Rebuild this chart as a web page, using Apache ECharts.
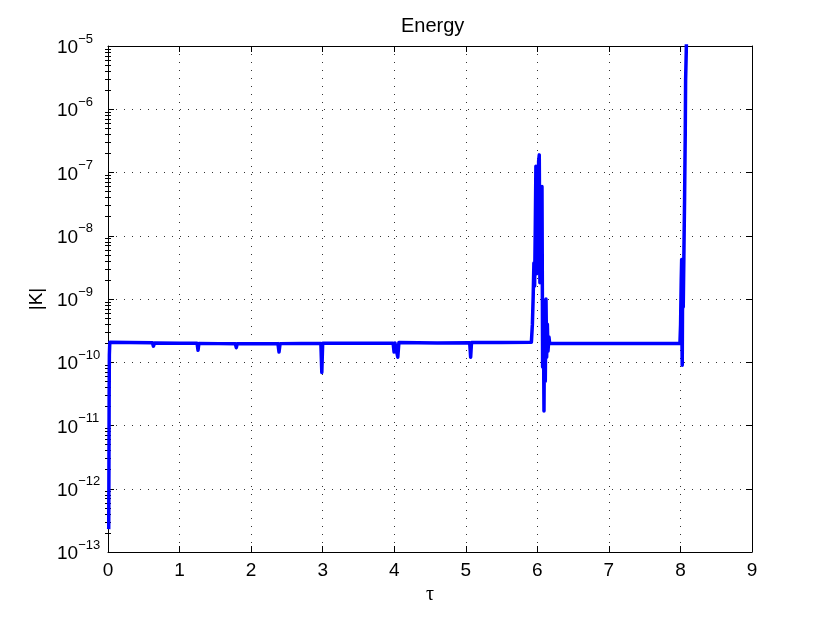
<!DOCTYPE html>
<html>
<head>
<meta charset="utf-8">
<script src="https://cdn.jsdelivr.net/npm/echarts@6/dist/echarts.min.js"></script>
<style>
html,body{margin:0;padding:0;background:#fff;}
#c{width:830px;height:621px;}
</style>
</head>
<body>
<div id="c"></div>
<script>
// ---- data ----
const titleText = 'Energy';
const xName = 'τ';
const yName = '|K|';
const xTicks = [0, 1, 2, 3, 4, 5, 6, 7, 8, 9];
const yDecades = [-13, -12, -11, -10, -9, -8, -7, -6, -5];

const tau = [
  0.010, 0.013, 0.016, 0.019, 0.025, 0.30,
  0.62, 0.635, 0.65, 1.00,
  1.245, 1.258, 1.27, 1.55,
  1.78, 1.793, 1.805, 2.10,
  2.375, 2.39, 2.405, 2.70,
  2.975, 2.988, 3.00, 3.50,
  3.985, 3.998, 4.01, 4.035, 4.05, 4.065, 4.08, 4.60,
  5.055, 5.068, 5.08, 5.50,
  5.917, 5.931, 5.942, 5.952, 5.962, 5.971, 5.980, 5.990, 5.999, 6.008,
  6.018, 6.027, 6.036, 6.046, 6.055, 6.065, 6.074, 6.083, 6.093, 6.102,
  6.111, 6.121, 6.130, 6.140, 6.149, 6.163, 6.172,
  7.00, 7.993, 8.002, 8.011, 8.017, 8.020, 8.025, 8.030, 8.039, 8.049,
  8.058, 8.067, 8.070, 8.072, 8.081, 8.090
];
const K = [
  2.3e-13, 2.0e-12, 3.0e-11, 1.3e-10, 2.07e-10, 2.06e-10,
  2.03e-10, 1.8e-10, 2.02e-10, 2.0e-10,
  1.99e-10, 1.55e-10, 1.98e-10, 1.97e-10,
  1.96e-10, 1.7e-10, 1.96e-10, 1.96e-10,
  1.97e-10, 1.45e-10, 1.97e-10, 1.98e-10,
  1.98e-10, 6.9e-11, 2.0e-10, 2.0e-10,
  2.0e-10, 1.45e-10, 2.02e-10, 2.05e-10, 1.2e-10, 2.05e-10, 2.02e-10, 2.02e-10,
  2.03e-10, 1.2e-10, 2.05e-10, 2.06e-10,
  2.08e-10, 4.0e-10, 1.1e-9, 3.7e-9, 1.6e-9, 1.25e-8, 1.26e-7, 2.5e-9, 1.1e-7, 6.0e-9,
  1.5e-7, 1.9e-7, 1.8e-9, 6.0e-8, 3.0e-9, 6.0e-8, 8.4e-11, 9.6e-10, 1.7e-11, 9.0e-10,
  5.0e-11, 1.0e-9, 1.2e-10, 4.0e-10, 1.5e-10, 2.5e-10, 1.98e-10,
  1.98e-10, 1.98e-10, 4.0e-10, 2.0e-9, 4.2e-9, 3.0e-10, 9.0e-11, 1.5e-9, 7.5e-10, 6.0e-9,
  4.0e-8, 4.0e-7, 4.0e-7, 2.8e-6, 8.0e-6, 3.0e-5
];

// ---- build ----
const yMin = Math.pow(10, yDecades[0]);
const yMax = Math.pow(10, yDecades[yDecades.length - 1]);
const minorTicks = [];
for (let i = 0; i < yDecades.length - 1; i++) {
  for (let k = 2; k <= 9; k++) minorTicks.push(k * Math.pow(10, yDecades[i]));
}
const majorTicks = yDecades.map(d => Math.pow(10, d));
const seriesData = tau.map((t, i) => [t, K[i]]);

const FONT = 'Liberation Sans, Arial, Helvetica, sans-serif';
const gridLine = {show: true, lineStyle: {color: '#333', width: 1, type: [1, 7]}};
const black = '#000';

const chart = echarts.init(document.getElementById('c'), null, {renderer: 'canvas'});
chart.setOption({
  animation: false,
  backgroundColor: '#fff',
  title: {
    text: titleText, left: 396, top: 11,
    textStyle: {fontFamily: FONT, fontSize: 20, fontWeight: 'normal', color: black}
  },
  grid: {left: 108, right: 78, top: 46, bottom: 69, containLabel: false},
  xAxis: [
    {
      type: 'value', min: 0, max: 9, interval: 1, position: 'bottom',
      name: xName, nameLocation: 'middle', nameGap: 30,
      nameTextStyle: {fontFamily: 'Liberation Serif, DejaVu Serif, serif', fontSize: 20, color: black},
      axisLine: {show: true, onZero: false, lineStyle: {color: black, width: 1}},
      axisTick: {show: true, inside: true, length: 6, lineStyle: {color: black}},
      axisLabel: {show: true, margin: 9, fontFamily: FONT, fontSize: 19, color: black},
      splitLine: gridLine
    },
    {
      type: 'value', min: 0, max: 9, interval: 1, position: 'top',
      axisLine: {show: true, onZero: false, lineStyle: {color: black, width: 1}},
      axisTick: {show: true, inside: true, length: 6, lineStyle: {color: black}},
      axisLabel: {show: false},
      splitLine: {show: false}
    }
  ],
  yAxis: [
    {
      type: 'log', logBase: 10, min: yMin, max: yMax, position: 'left',
      name: yName, nameLocation: 'middle', nameGap: 60,
      nameTextStyle: {fontFamily: FONT, fontSize: 19, color: black},
      axisLine: {show: true, onZero: false, lineStyle: {color: black, width: 1}},
      axisTick: {show: true, inside: true, length: 6, lineStyle: {color: black}, customValues: majorTicks},
      axisLabel: {
        show: true, align: 'left', margin: 51, customValues: majorTicks,
        padding: [4, 0, 0, 0],
        formatter: v => '{b|10}{s|\u2212' + Math.abs(Math.round(Math.log10(v))) + '}',
        rich: {
          b: {fontFamily: FONT, fontSize: 19, lineHeight: 31, color: black, verticalAlign: 'middle'},
          s: {fontFamily: FONT, fontSize: 13, lineHeight: 13, color: black, verticalAlign: 'top'}
        }
      },
      splitLine: gridLine
    },
    {
      type: 'log', logBase: 10, min: yMin, max: yMax, position: 'left',
      axisLine: {show: false},
      axisTick: {show: true, inside: true, length: 3, lineStyle: {color: black}, customValues: minorTicks},
      axisLabel: {show: false},
      splitLine: {show: false}
    },
    {
      type: 'log', logBase: 10, min: yMin, max: yMax, position: 'right',
      axisLine: {show: true, onZero: false, lineStyle: {color: black, width: 1}},
      axisTick: {show: true, inside: true, length: 6, lineStyle: {color: black}, customValues: majorTicks},
      axisLabel: {show: false},
      splitLine: {show: false}
    },
    {
      type: 'log', logBase: 10, min: yMin, max: yMax, position: 'right',
      axisLine: {show: false},
      axisTick: {show: true, inside: true, length: 3, lineStyle: {color: black}, customValues: minorTicks},
      axisLabel: {show: false},
      splitLine: {show: false}
    }
  ],
  series: [{
    type: 'line', xAxisIndex: 0, yAxisIndex: 0,
    data: seriesData, showSymbol: false, symbol: 'none', clip: true,
    lineStyle: {color: '#0000ff', width: 3.5, join: 'round'},
    z: 3
  }]
});
</script>
</body>
</html>
